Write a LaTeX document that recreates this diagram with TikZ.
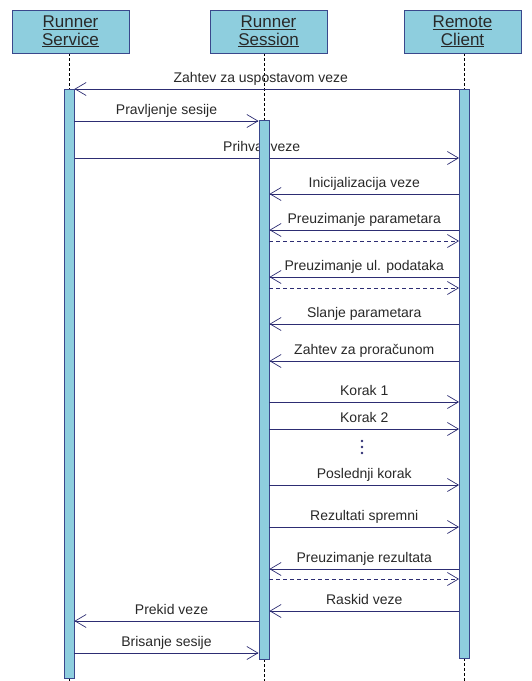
\documentclass[tikz,border=0pt]{standalone}
\usepackage{fontspec}
\setmainfont{Liberation Sans}
\usetikzlibrary{arrows.meta, positioning, backgrounds}

\definecolor{lifecyan}{RGB}{142,206,222}
\definecolor{edgeblue}{RGB}{58,72,140}
\definecolor{msgnavy}{RGB}{45,45,115}
\definecolor{labelgrey}{RGB}{40,40,40}

\tikzset{
	actor/.style={draw=edgeblue, fill=lifecyan, line width=0.8pt, minimum width=117pt, minimum height=43pt, inner sep=0pt, align=center, text=labelgrey, font=\fontsize{17}{17.5}\selectfont},
	bar/.style={draw=edgeblue, fill=lifecyan, line width=0.9pt, minimum width=10pt, inner sep=0pt},
	life/.style={line width=0.8pt, dash pattern=on 3pt off 2pt},
	msg/.style={msgnavy, line width=0.7pt, -{Straight Barb[length=11pt, width=13pt]}},
	reply/.style={msg, dash pattern=on 4pt off 3pt},
	lbl/.style={above=2.5pt, inner sep=1pt, text=labelgrey, text height=10pt, text depth=2.8pt, font=\fontsize{14}{15}\selectfont}
}

\begin{document}
\begin{tikzpicture}[x=1pt, y=-1pt]
	\useasboundingbox (0,0) rectangle (532,681);

	% heads of the three lifelines
	\node[actor] (svchead) at (70.5,31.5) {\underline{Runner}\\\underline{Service}};
	\node[actor] (seshead) at (268.5,31.5) {\underline{Runner}\\\underline{Session}};
	\node[actor] (clihead) at (462.5,31.5) {\underline{Remote}\\\underline{Client}};

	% activation bars
	\node[bar, minimum height=589pt] (svc) at (69,383.5) {};
	\node[bar, minimum height=539pt] (ses) at (264,389.5) {};
	\node[bar, minimum height=569pt] (cli) at (464.5,373.5) {};

	\begin{scope}[on background layer]
		\draw[life] (svchead.south -| svc) -- (svc.north);
		\draw[life] (seshead.south -| ses) -- (ses.north);
		\draw[life] (clihead.south -| cli) -- (cli.north);
		\draw[life] (svc.south) -- (svc.south |- 0,681);
		\draw[life] (ses.south) -- (ses.south |- 0,681);
		\draw[life] (cli.south) -- (cli.south |- 0,681);

		% passes behind the session bar
		\draw[msg] (svc.east |- 0,158) -- node[lbl, xshift=-5pt]{Prihvat veze} (cli.west |- 0,158);
	\end{scope}

	\draw[msg] (cli.west |- 0,89) -- node[lbl, xshift=-6pt]{Zahtev za uspostavom veze} (svc.east |- 0,89);
	\draw[msg] (svc.east |- 0,121) -- node[lbl]{Pravljenje sesije} (ses.west |- 0,121);

	\draw[msg] (cli.west |- 0,194) -- node[lbl]{Inicijalizacija veze} (ses.east |- 0,194);
	\draw[msg] (cli.west |- 0,230) -- node[lbl]{Preuzimanje parametara} (ses.east |- 0,230);
	\draw[reply] (ses.east |- 0,241) -- (cli.west |- 0,241);
	\draw[msg] (cli.west |- 0,277) -- node[lbl]{Preuzimanje ul. podataka} (ses.east |- 0,277);
	\draw[reply] (ses.east |- 0,288) -- (cli.west |- 0,288);
	\draw[msg] (cli.west |- 0,324) -- node[lbl]{Slanje parametara} (ses.east |- 0,324);
	\draw[msg] (cli.west |- 0,361) -- node[lbl]{Zahtev za proračunom} (ses.east |- 0,361);

	% computation steps
	\draw[msg] (ses.east |- 0,402) -- node[lbl]{Korak 1} (cli.west |- 0,402);
	\draw[msg] (ses.east |- 0,429) -- node[lbl]{Korak 2} (cli.west |- 0,429);
	\foreach \dy in {441,447,453}
		\fill[msgnavy] (362,\dy) circle (1.3);
	\draw[msg] (ses.east |- 0,485) -- node[lbl]{Poslednji korak} (cli.west |- 0,485);
	\draw[msg] (ses.east |- 0,527) -- node[lbl]{Rezultati spremni} (cli.west |- 0,527);

	\draw[msg] (cli.west |- 0,569) -- node[lbl]{Preuzimanje rezultata} (ses.east |- 0,569);
	\draw[reply] (ses.east |- 0,579) -- (cli.west |- 0,579);
	\draw[msg] (cli.west |- 0,611) -- node[lbl]{Raskid veze} (ses.east |- 0,611);

	\draw[msg] (ses.west |- 0,621) -- node[lbl, xshift=5pt]{Prekid veze} (svc.east |- 0,621);
	\draw[msg] (svc.east |- 0,653) -- node[lbl]{Brisanje sesije} (ses.west |- 0,653);
\end{tikzpicture}
\end{document}
